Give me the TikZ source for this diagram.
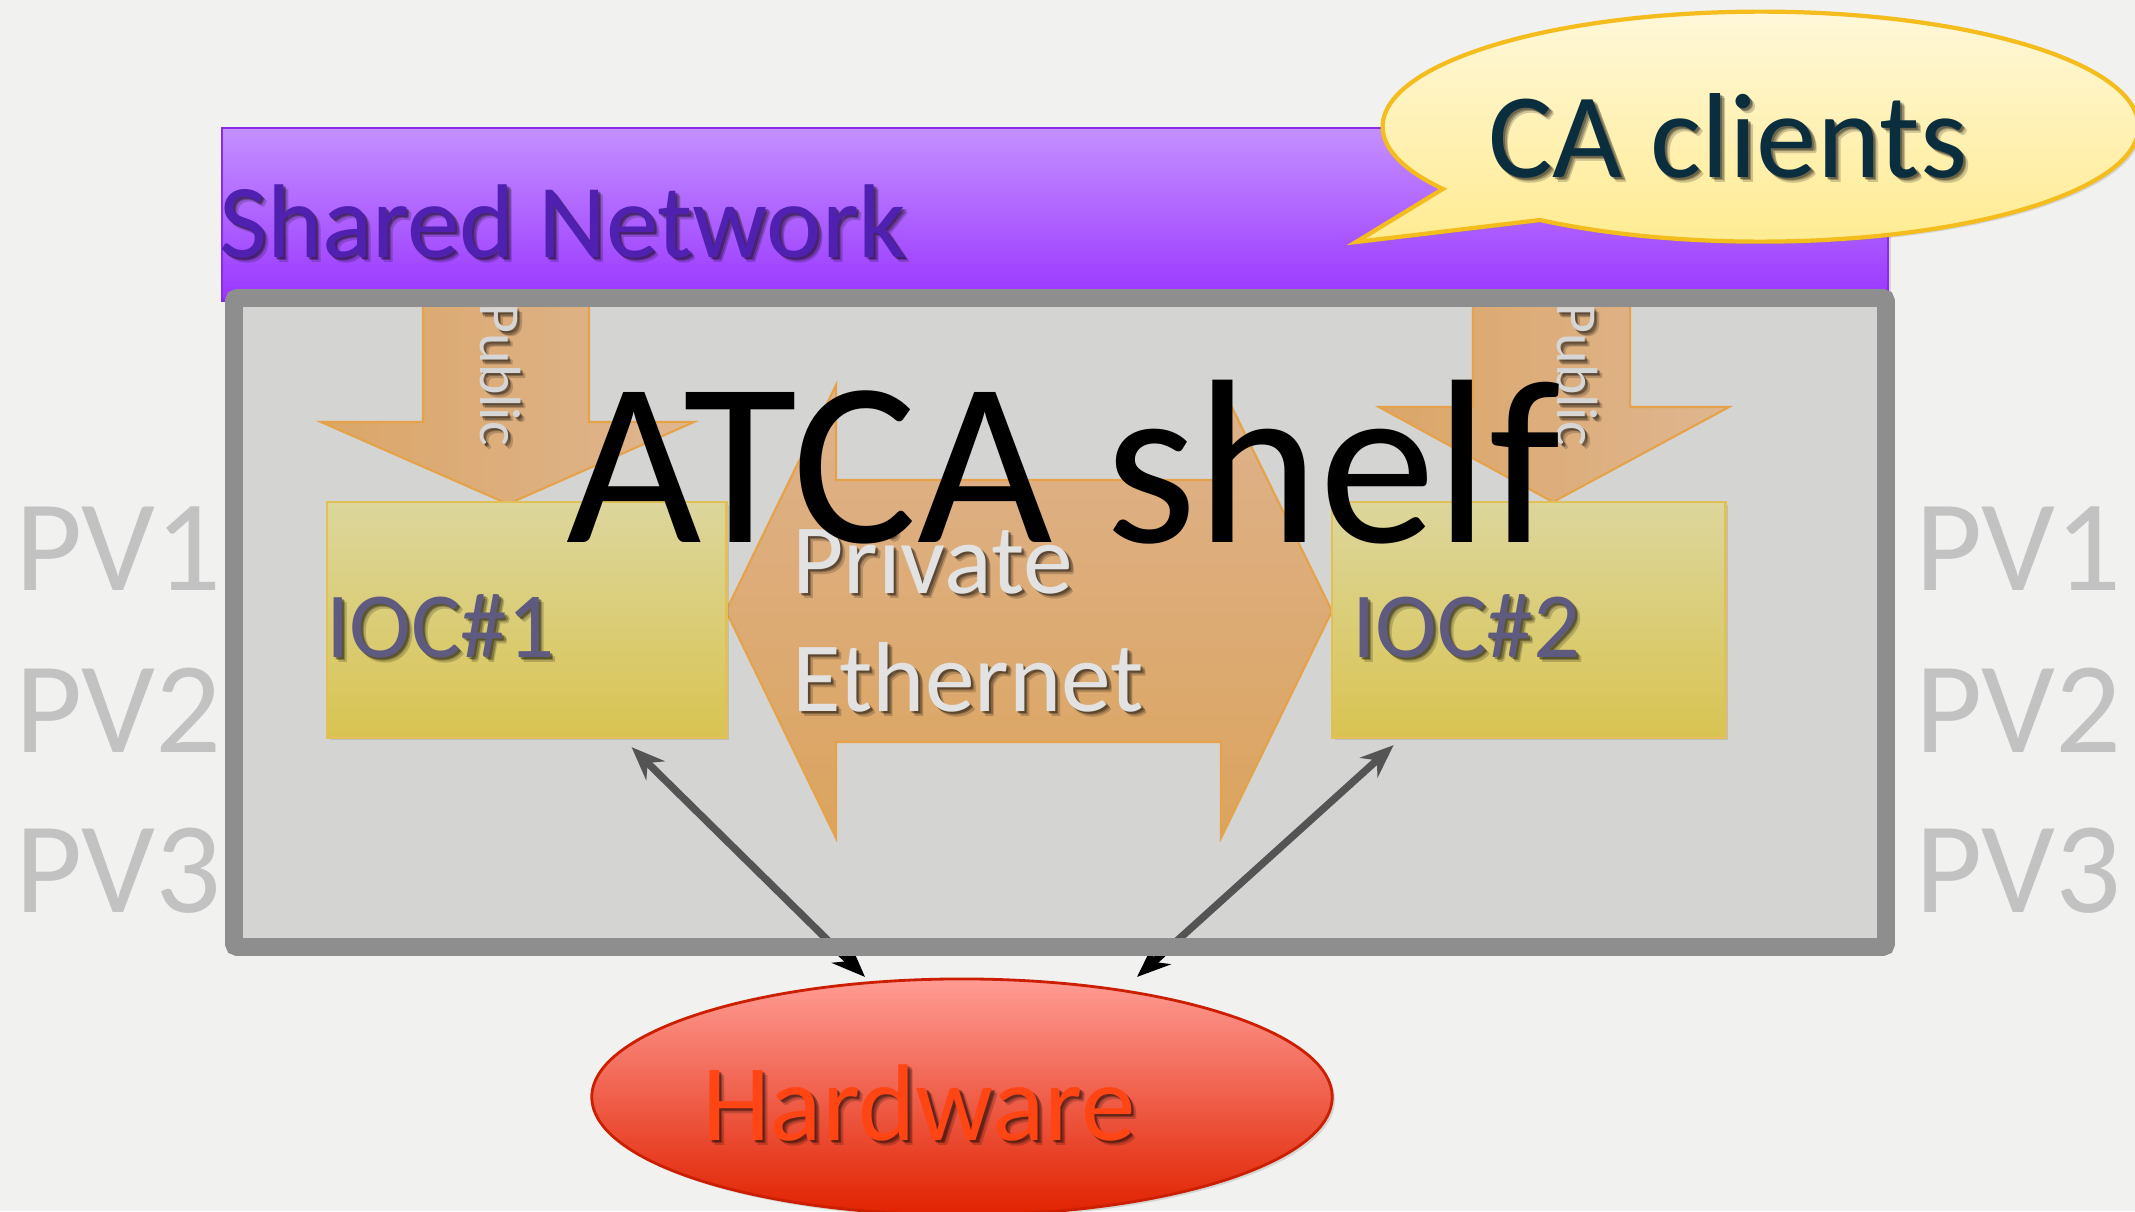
\documentclass[tikz,border=0pt]{standalone}
\usepackage{fontspec}
\setmainfont{Carlito}
\usetikzlibrary{arrows.meta,shapes.geometric,shadows}

\definecolor{paper}{HTML}{F1F1EF}
\definecolor{pvgray}{HTML}{C2C2C2}
\definecolor{netTop}{HTML}{C490FF}
\definecolor{netBot}{HTML}{9A36FF}
\definecolor{netEdge}{HTML}{8A2BE6}
\definecolor{netText}{HTML}{5020B0}
\definecolor{shelfTint}{HTML}{B4B4B4}
\definecolor{shelfEdge}{HTML}{8E8E8E}
\definecolor{flowTop}{HTML}{DEB28C}
\definecolor{flowBot}{HTML}{DBA45E}
\definecolor{flowLeft}{HTML}{DBA668}
\definecolor{flowRight}{HTML}{DFB690}
\definecolor{flowEdge}{HTML}{E5A24A}
\definecolor{iocTop}{HTML}{DCD69C}
\definecolor{iocBot}{HTML}{D9C452}
\definecolor{iocEdge}{HTML}{E2C058}
\definecolor{iocText}{HTML}{5E5A80}
\definecolor{lightText}{HTML}{E2E2E2}
\definecolor{publicText}{HTML}{D6D6D6}
\definecolor{hwTop}{HTML}{FF9C94}
\definecolor{hwBot}{HTML}{E02200}
\definecolor{hwEdge}{HTML}{CC1E00}
\definecolor{hwText}{HTML}{FF4513}
\definecolor{bubTop}{HTML}{FFF8DE}
\definecolor{bubBot}{HTML}{FFEB8E}
\definecolor{bubEdge}{HTML}{F4BC1C}
\definecolor{bubText}{HTML}{0B2E3F}

\pgfdeclarelayer{paperlayer}
\pgfdeclarelayer{wirelayer}
\pgfdeclarelayer{tintlayer}
\pgfsetlayers{paperlayer,wirelayer,tintlayer,main}

% text with a soft dark shadow: name, anchor coordinate, style, text
\newcommand\shadowedlabel[4]{%
  \foreach \shk/\shd/\sho in {a/2/0.3,b/3.5/0.26,c/5/0.18}{%
    \node[#3,text=black,opacity=\sho] (#1-\shk) at ([shift={(\shd,\shd)}]#2) {#4};}%
  \node[#3] (#1) at (#2) {#4};}

\begin{document}
\begin{tikzpicture}[x=0.01cm, y=-0.01cm,
  lbl/.style={inner sep=0pt, outer sep=0pt, anchor=base west},
  softshadow/.style={drop shadow={opacity=0.25, shadow xshift=0.8pt, shadow yshift=-0.8pt}},
  iocbox/.style={anchor=north west, minimum height=2.35cm, inner sep=0pt, outer sep=0pt,
    top color=iocTop, bottom color=iocBot, draw=iocEdge, line width=0.8pt, softshadow},
  flow/.style={draw=flowEdge, line width=0.6pt, line join=miter},
  link/.style={draw=black, line width=2.1pt, {Stealth[length=9.5pt,width=7.5pt]}-{Stealth[length=9.5pt,width=7.5pt]}},
  pvfont/.style={lbl, text=pvgray, font=\fontsize{37}{44}\selectfont},
]
\useasboundingbox (0,0) rectangle (2135,1211);

% ---------- paper, PV lists and the shared network band ----------
\begin{pgfonlayer}{paperlayer}
  \fill[paper] (0,0) rectangle (2135,1211);
  \foreach \n/\yy in {1/590,2/752,3/912}{
    \node[pvfont] (pvl\n) at (15,\yy) {PV\n};
    \node[pvfont] (pvr\n) at (1915,\yy) {PV\n};
  }
  \node[softshadow, top color=netTop, bottom color=netBot, draw=netEdge, line width=0.8pt,
        anchor=north west, minimum width=16.65cm, minimum height=1.72cm,
        inner sep=0pt, outer sep=0pt] (net) at (222,128) {};
\end{pgfonlayer}

% ---------- shelf outline corners ----------
\coordinate (shelf-nw) at (234,298);
\coordinate (shelf-se) at (1886,947);

\begin{pgfonlayer}{tintlayer}
  \fill[shelfTint, fill opacity=0.47] (shelf-nw) rectangle (shelf-se);
\end{pgfonlayer}

% ---------- private ethernet (double arrow) ----------
\path[flow, top color=flowTop, bottom color=flowBot]
  (726,611) -- (836,385) -- (836,480) -- (1221,480) -- (1221,385) -- (1332,611)
  -- (1221,838) -- (1221,742) -- (836,742) -- (836,838) -- cycle;

% ---------- public arrows ----------
\path[flow, left color=flowLeft, right color=flowRight]
  (423,300) -- (423,422) -- (321,422) -- (508,504) -- (694,422) -- (589,422) -- (589,300) -- cycle;
\path[flow, left color=flowLeft, right color=flowRight]
  (1473,300) -- (1473,407) -- (1379,407) -- (1553,502) -- (1729,407) -- (1630,407) -- (1630,300) -- cycle;

% ---------- IOC boxes ----------
\node[iocbox, minimum width=3.99cm] (ioc1) at (327,502) {};
\node[iocbox, minimum width=3.93cm] (ioc2) at (1332,502) {};

% ---------- shelf frame ----------
\draw[shelfEdge, line width=5.1pt, rounded corners=1pt] (shelf-nw) rectangle (shelf-se);

% ---------- hardware ----------
\node[ellipse, minimum width=7.40cm, minimum height=2.36cm, inner sep=0pt, outer sep=0pt,
      top color=hwTop, bottom color=hwBot, draw=hwEdge, line width=0.8pt, softshadow]
      (hw) at (962,1097) {};

% ---------- links between IOCs and hardware (seen through the shelf tint) ----------
\begin{pgfonlayer}{wirelayer}
  \draw[link] ([shift={(105,10)}]ioc1.south) -- ([shift={(-97,-2)}]hw.north);
  \draw[link] ([shift={(-135,8)}]ioc2.south) -- ([shift={(175,-2)}]hw.north);
\end{pgfonlayer}

% ---------- CA clients speech bubble ----------
\coordinate (bubble-tip) at (1356,242);
\path[draw=bubEdge, line width=1.2pt, top color=bubTop, bottom color=bubBot, softshadow]
  (1540,220) arc[start angle=125.7, end angle=-212.8, x radius=378, y radius=115]
  -- (bubble-tip) -- cycle;

% ---------- labels ----------
\coordinate (p-net) at (219,257);
\shadowedlabel{net-label}{p-net}{lbl, text=netText, font=\fontsize{29.8}{36}\selectfont}{Shared Network}

\coordinate (p-ca) at (1728,177);
\shadowedlabel{ca-label}{p-ca}{lbl, anchor=base, text=bubText, font=\fontsize{34.4}{41}\selectfont}{CA clients}

\coordinate (p-pub1) at (500,303);
\shadowedlabel{pub1-label}{p-pub1}{inner sep=0pt, anchor=west, rotate=-90, text=publicText, font=\fontsize{16.5}{20}\selectfont}{Public}
\coordinate (p-pub2) at (1577,303);
\shadowedlabel{pub2-label}{p-pub2}{inner sep=0pt, anchor=west, rotate=-90, text=publicText, font=\fontsize{16.5}{20}\selectfont}{Public}

\coordinate (p-priv) at (792,593);
\shadowedlabel{priv-label}{p-priv}{lbl, text=lightText, font=\fontsize{28.3}{34}\selectfont}{Private}
\coordinate (p-eth) at (792,711);
\shadowedlabel{eth-label}{p-eth}{lbl, text=lightText, font=\fontsize{28.3}{34}\selectfont}{Ethernet}

\coordinate (p-ioc1) at (326,657);
\shadowedlabel{ioc1-label}{p-ioc1}{lbl, text=iocText, font=\fontsize{26.5}{32}\selectfont}{IOC\#1}
\coordinate (p-ioc2) at (1352,657);
\shadowedlabel{ioc2-label}{p-ioc2}{lbl, text=iocText, font=\fontsize{26.5}{32}\selectfont}{IOC\#2}

\node[lbl, text=black, font=\fontsize{66.5}{80}\selectfont] (atca-label) at (566,542) {ATCA shelf};

\coordinate (p-hw) at (702,1140);
\shadowedlabel{hw-label}{p-hw}{lbl, text=hwText, font=\fontsize{31}{37}\selectfont}{Hardware}
\end{tikzpicture}
\end{document}
